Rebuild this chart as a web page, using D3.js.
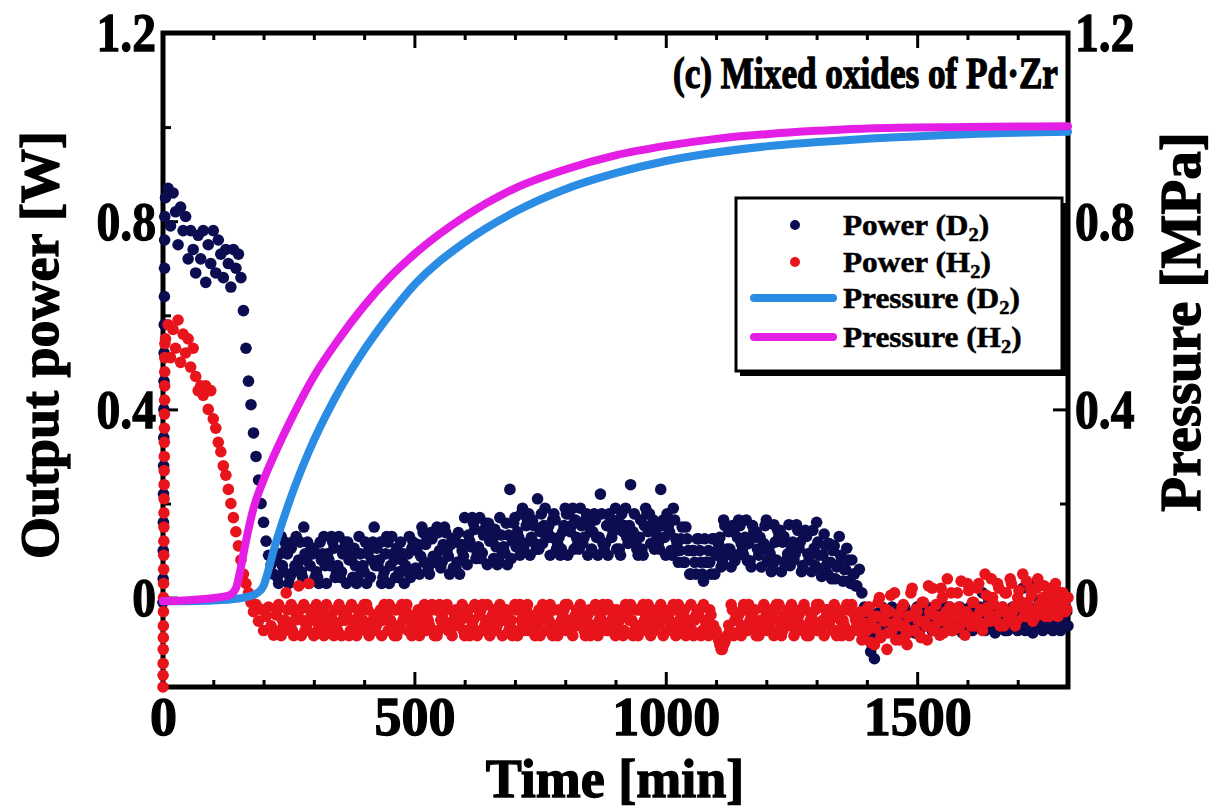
<!DOCTYPE html>
<html><head><meta charset="utf-8">
<script src="https://cdn.jsdelivr.net/npm/d3@7"></script>
<style>
body{margin:0;background:#fff}
svg{display:block}
text{font-family:"Liberation Serif","Times New Roman",serif;font-weight:bold;fill:#000}
.heavy{stroke:#000;stroke-width:1.3px}
</style>
</head><body>
<svg id="c" width="1217" height="809"></svg>
<script>
// ---------------- DATA ----------------
const xTicks = [0, 500, 1000, 1500];
const xTickLabels = ["0", "500", "1000", "1500"];
const xMinorTicks = [100,200,300,400,600,700,800,900,1100,1200,1300,1400,1600,1700];
const yTicks = [0, 0.4, 0.8, 1.2];
const yTickLabels = ["0", "0.4", "0.8", "1.2"];
const yMinorTicks = [0.2, 0.6, 1.0];

// initial fast rise (min, W)
const riseD2Time = [0,0.25,0.5,0.75,1,1.25,1.5,1.75,2,2.25,2.5,2.75,3,3.25,3.5];
const riseD2 = [-0.01,0.04,0.1,0.16,0.22,0.28,0.34,0.40,0.46,0.52,0.58,0.64,0.70,0.76,0.81];
const riseH2Time = [0,0.15,0.3,0.45,0.6,0.75,0.9,1.05,1.2,1.35,1.5,1.65,1.8,1.95,2.1,2.25,2.4,2.55,2.7,2.85,3,3.15,3.3,3.45,3.6,3.75];
const riseH2 = [-0.19,-0.165,-0.14,-0.11,-0.085,-0.06,-0.03,0.0,0.03,0.06,0.09,0.12,0.15,0.18,0.21,0.24,0.27,0.30,0.33,0.36,0.39,0.42,0.45,0.48,0.51,0.54];

// power samples every 5 min from 5 to 1800 min
const powerStep = 5;
const powerD2 = [
 0.85,0.87,0.79,0.86,0.82,0.75,
 0.83,0.78,0.81,0.72,
 0.78,0.74,0.69,0.77,0.72,0.78,0.67,0.75,0.71,0.78,0.69,0.76,
 0.73,0.68,0.74,0.71,0.66,0.74,0.70,0.73,
 0.68,0.61,0.53,0.46,0.41,0.35,0.30,0.25,0.20,0.16,0.12,0.09,0.07,0.05,
 0.08,0.03,0.13,0.055,0.105, 0.03,0.105,0.055,0.13,0.08, 0.055,0.15,0.08,0.03,0.105, 0.105,0.055,0.03,0.08,0.13,
 0.03,0.08,0.13,0.105,0.055, 0.13,0.055,0.105,0.03,0.08, 0.08,0.105,0.03,0.13,0.055, 0.055,0.03,0.105,0.08,0.15,
 0.105,0.08,0.03,0.055,0.13, 0.03,0.13,0.08,0.105,0.055, 0.08,0.03,0.055,0.13,0.105, 0.06,
 0.10,0.05,0.15,0.075,0.125, 0.05,0.125,0.075,0.15,0.10, 0.075,0.15,0.10,0.05,0.125, 0.125,0.075,0.05,0.10,0.17,
 0.07,0.12,0.17,0.145,0.095, 0.17,0.095,0.145,0.07,0.12, 0.12,0.145,0.07,0.17,0.095, 0.095,0.07,0.23,0.12,0.17,
 0.14,0.09,0.19,0.115,0.165, 0.09,0.165,0.115,0.21,0.14, 0.115,0.19,0.14,0.09,0.165, 0.165,0.115,0.09,0.14,0.19,
 0.09,0.14,0.19,0.165,0.115, 0.19,0.115,0.165,0.09,0.14, 0.14,0.165,0.09,0.22,0.115, 0.115,0.09,0.165,0.14,0.19,
 0.165,0.09,0.14,0.19,0.115, 0.24,0.14,0.115,0.09,0.165, 0.09,0.19,0.14,0.115,0.165, 0.14,0.115,0.23,0.165,0.09,
 0.15,0.10,0.19,0.125,0.075, 0.125,0.075,0.15,0.10,0.05, 0.10,0.05,0.125,0.075,0.035, 0.075,0.10,0.05,0.125,0.09,
 0.115,0.065,0.165,0.09,0.14, 0.065,0.14,0.09,0.165,0.115, 0.09,0.165,0.115,0.065,0.14, 0.14,0.09,0.065,0.115,0.165,
 0.105,0.055,0.155,0.08,0.13, 0.055,0.13,0.08,0.155,0.105, 0.08,0.155,0.105,0.055,0.13, 0.13,0.08,0.055,0.105,0.16,
 0.09,0.045,0.135,0.07,0.115, 0.04,0.11,0.065,0.13,0.085, 0.06,0.105,0.035,0.08,0.05, 0.025,0.06,0.01,-0.02,-0.05,
 -0.07,-0.10,-0.13,-0.085,-0.045, -0.02,-0.07,-0.045, -0.045,-0.02,-0.075, -0.07,-0.045,-0.02, -0.02,-0.07,-0.045, -0.045,-0.075,-0.02,
 -0.07,-0.02,-0.045, -0.02,-0.045,-0.07, -0.045,-0.07,-0.02, -0.075,-0.045,-0.02, -0.02,-0.07,-0.045, -0.045,-0.02,-0.075, -0.07,-0.045,
 -0.02,-0.07,-0.045, -0.045,-0.02,0.01, -0.07,-0.045,-0.02, -0.02,-0.075,-0.045, -0.045,-0.02,-0.07, -0.07,-0.045,-0.02, -0.02,-0.07,
 -0.045,0.02,-0.07,-0.02, -0.045,-0.075,0.03,-0.02,-0.045, -0.07,-0.02,-0.045, 0.01,-0.07,-0.045, -0.02,-0.07,-0.045,-0.02,-0.06
];
const powerH2 = [
 0.55,0.58,0.51,0.57,0.53,0.59,0.50,0.56,0.52,0.55,0.49,0.53,
 0.47,0.44,0.45,0.43,0.45,0.40,0.44,0.38,
 0.36,0.33,0.31,0.28,0.26,0.23,0.20,0.17,0.14,0.11,0.08,0.05,0.03,0.01,-0.01,
 -0.03,-0.015,-0.05,-0.025,-0.07,-0.04,-0.02,-0.06,-0.08,
 -0.037,-0.015,-0.081,-0.059, 0.01,-0.059,-0.015,-0.081, -0.037,0.025,-0.081,-0.015, -0.059,0.03,-0.037,-0.081, -0.015,-0.059,-0.037,-0.081,
 -0.015,-0.059,-0.037,-0.081, -0.059,-0.015,-0.081,-0.037, -0.037,-0.081,-0.015,-0.059, -0.081,-0.037,-0.059,-0.015, -0.015,-0.081,-0.059,-0.037,
 -0.059,-0.037,-0.081,-0.015, -0.037,-0.015,-0.059,-0.081, -0.081,-0.059,-0.015,-0.037, -0.015,-0.037,-0.081,-0.059, -0.059,-0.081,-0.037,-0.015,
 -0.037,-0.059,-0.015,-0.081, -0.081,-0.015,-0.037,-0.059, -0.015,-0.059,-0.081,-0.037, -0.059,-0.037,-0.015,-0.081, -0.037,-0.081,-0.059,-0.015,
 -0.081,-0.037,-0.015,-0.059, -0.015,-0.081,-0.037,-0.059, -0.059,-0.015,-0.081,-0.037, -0.037,-0.059,-0.081,-0.015, -0.081,-0.015,-0.059,-0.037,
 -0.015,-0.037,-0.059,-0.081, -0.059,-0.081,-0.015,-0.037, -0.037,-0.015,-0.081,-0.059, -0.081,-0.059,-0.037,-0.015, -0.015,-0.059,-0.081,-0.037,
 -0.059,-0.015,-0.037,-0.081, -0.037,-0.081,-0.059,-0.015, -0.081,-0.037,-0.015,-0.059, -0.015,-0.059,-0.037,-0.081, -0.059,-0.037,-0.081,-0.015,
 -0.037,-0.015,-0.081,-0.059, -0.081,-0.059,-0.015,-0.037, -0.015,-0.081,-0.037,-0.059, -0.059,-0.015,-0.081,-0.037, -0.037,-0.059,-0.015,-0.081,
 -0.015,-0.059,-0.037,-0.081, -0.059,-0.015,-0.081,-0.037, -0.037,-0.081,-0.015,-0.059, -0.081,-0.037,-0.059, -0.07,-0.09,-0.11,-0.10,-0.085,
 -0.059,-0.015,-0.081,-0.037, -0.037,-0.081,-0.015,-0.059, -0.015,-0.037,-0.059,-0.081, -0.081,-0.059,-0.015,-0.037, -0.059,-0.037,-0.081,-0.015,
 -0.015,-0.081,-0.037,-0.059, -0.059,-0.015,-0.081,-0.037, -0.037,-0.059,-0.015,-0.081, -0.081,-0.037,-0.059,-0.015, -0.015,-0.059,-0.081,-0.037,
 -0.059,-0.037,-0.015,-0.081, -0.037,-0.081,-0.059,-0.015, -0.081,-0.015,-0.037,-0.059,
 -0.05,-0.09,-0.03,-0.07,
 -0.02,-0.06,-0.10,-0.04,0.00,-0.08,-0.05,-0.11,-0.03,-0.07,0.01,-0.05,-0.09,-0.02,-0.06,-0.10,-0.04,0.02,-0.07,-0.03,
 -0.08,-0.01,-0.05,-0.09,-0.03,0.02,-0.06,-0.04,-0.08,0.00,-0.05,0.04,-0.02,-0.07,-0.04,0.01,-0.06,-0.03,-0.08,0.03,
 -0.04,-0.01,-0.06,0.02,-0.03,-0.07,0.05,-0.02,-0.05,0.00,-0.04,0.03,-0.06,-0.02,0.01,-0.05,0.04,-0.03,-0.06,0.00,
 -0.02,0.05,-0.04,-0.01,0.02,-0.05,-0.03,0.04,-0.02,0.00,-0.04,0.02,-0.03,-0.01,0.03,-0.04,-0.02,0.01,-0.03,0.00
];

// intermediate samples (every 5 min from 227.5 to 1797.5 min)
const powerMidStart = 227.5;
const powerD2Mid = [
 0.043,0.093,0.068,0.118, 0.093,0.043,0.118,0.068, 0.068,0.118,0.043,0.093, 0.118,0.068,0.093,0.043, 0.043,0.118,0.093,0.068,
 0.093,0.068,0.118,0.043, 0.068,0.043,0.093,0.118, 0.118,0.093,0.043,0.068, 0.043,0.093,0.068,0.118, 0.093,0.043,0.118,0.068,
 0.068,0.118,0.043,0.093, 0.118,0.068,0.093,0.043, 0.043,0.118,0.093,0.068, 0.093,0.043,0.118,
 0.063,0.113,0.088,0.138, 0.113,0.063,0.138,0.088, 0.088,0.138,0.063,0.113, 0.138,0.088,0.113,0.063, 0.063,0.138,0.113,0.088, 0.113,
 0.133,0.108,0.158,0.083, 0.108,0.083,0.133,0.158, 0.158,0.133,0.083,0.108, 0.083,0.133,0.108,0.158, 0.133,0.083,0.158,0.108,
 0.128,0.178,0.103,0.153, 0.178,0.128,0.153,0.103, 0.103,0.178,0.153,0.128, 0.153,0.128,0.178,0.103, 0.128,0.103,0.153,0.178,
 0.178,0.153,0.103,0.128, 0.103,0.153,0.128,0.178, 0.153,0.103,0.178,0.128, 0.128,0.178,0.103,0.153, 0.178,0.128,0.153,0.103,
 0.103,0.178,0.153,0.128, 0.153,0.128,0.178,0.103, 0.128,0.103,0.153,0.178, 0.178,0.153,0.103,0.128, 0.103,0.153,0.128,0.178,
 0.14,0.09,0.165,0.115, 0.10,0.15,0.075,0.125, 0.05,0.10,0.075,0.125, 0.10,0.05,0.125,0.075, 0.075,0.125,0.05,0.10,
 0.128,0.078,0.153,0.103, 0.103,0.153,0.078,0.128, 0.153,0.103,0.128,0.078, 0.078,0.153,0.128,0.103, 0.128,0.103,0.153,0.078,
 0.093,0.068,0.118,0.143, 0.143,0.118,0.068,0.093, 0.068,0.118,0.093,0.143, 0.118,0.068,0.143,0.093, 0.093,0.143,0.068,0.118,
 0.06,0.09,0.11,0.05,0.075,0.10,0.04,0.07,0.09,0.035,0.06,0.08,0.03,0.05,0.025,
 -0.035,-0.06,-0.085,-0.04,-0.09,-0.115,-0.10,-0.06,
 -0.033,-0.058,-0.06,-0.03,-0.035,-0.058,-0.055,-0.033,-0.03,-0.06,-0.058,-0.035,-0.033,-0.055,-0.06,-0.03,-0.033,-0.058,-0.06,-0.035,
 -0.03,-0.058,-0.055,-0.033,-0.035,-0.06,-0.058,-0.03,-0.033,-0.055,-0.06,-0.035,-0.03,-0.058,-0.055,-0.033,-0.035,-0.06,-0.058,-0.03,
 -0.033,-0.055,-0.06,-0.035,-0.008,-0.058,-0.055,-0.033,-0.035,-0.06,-0.058,-0.03,-0.033,-0.055,-0.06,-0.035,-0.03,-0.058,-0.055,-0.033,
 -0.035,-0.06,-0.058,-0.03,-0.005,-0.055,-0.06,-0.035,-0.03,-0.058,-0.055,-0.033,-0.035,-0.06,-0.058,-0.03
];
const powerH2Mid = [
 -0.026,-0.07,-0.048, -0.048,-0.026,-0.07, -0.07,-0.048,-0.026, -0.026,-0.048,-0.07, -0.07,-0.026,-0.048, -0.048,-0.07,-0.026, -0.026,-0.07,-0.048,
 -0.07,-0.048,-0.026, -0.07,-0.026,-0.048, -0.048,-0.026,-0.07, -0.048,-0.07,-0.026, -0.026,-0.048,-0.07, -0.026,-0.07,-0.048, -0.07,-0.048,-0.026,
 -0.048,-0.026,-0.07, -0.048,-0.07,-0.026, -0.07,-0.026,-0.048, -0.026,-0.07,-0.048, -0.07,-0.048,-0.026, -0.026,-0.048,-0.07, -0.048,-0.026,-0.07,
 -0.026,-0.07,-0.048, -0.048,-0.026,-0.07, -0.07,-0.048,-0.026, -0.026,-0.048,-0.07, -0.07,-0.026,-0.048, -0.048,-0.07,-0.026, -0.026,-0.07,-0.048,
 -0.07,-0.048,-0.026, -0.07,-0.026,-0.048, -0.048,-0.026,-0.07, -0.048,-0.07,-0.026, -0.026,-0.048,-0.07, -0.026,-0.07,-0.048, -0.07,-0.048,-0.026,
 -0.048,-0.026,-0.07, -0.048,-0.07,-0.026, -0.07,-0.026,-0.048, -0.026,-0.07,-0.048, -0.07,-0.048,-0.026, -0.026,-0.048,-0.07, -0.048,-0.026,-0.07,
 -0.026,-0.07,-0.048, -0.048,-0.026,-0.07, -0.07,-0.048,-0.026, -0.026,-0.048,-0.07, -0.07,-0.026,-0.048, -0.048,-0.07,-0.026, -0.026,-0.07,-0.048,
 -0.07,-0.048,-0.026, -0.07,-0.026,-0.048, -0.048,-0.026,-0.07, -0.048,-0.07,-0.026, -0.026,-0.048,-0.07, -0.026,-0.07,-0.048, -0.07,-0.048,-0.026,
 -0.026,-0.07,-0.048, -0.048,-0.026,-0.07, -0.07, -0.08,-0.10,-0.11,-0.095,-0.08, -0.07,-0.026,-0.048, -0.048,-0.07,-0.026, -0.026,-0.07,-0.048,
 -0.048,-0.026,-0.07, -0.048,-0.07,-0.026, -0.07,-0.026,-0.048, -0.026,-0.07,-0.048, -0.07,-0.048,-0.026, -0.026,-0.048,-0.07, -0.048,-0.026,-0.07,
 -0.026,-0.07,-0.048, -0.048,-0.026,-0.07, -0.07,-0.048,-0.026, -0.026,-0.048,-0.07, -0.07,-0.026,-0.048, -0.048,-0.07,-0.026, -0.026,-0.07,-0.048,
 -0.07,-0.03,-0.08,-0.055,-0.02,-0.095,-0.04,-0.065,-0.01,-0.085,-0.045,-0.025,-0.075,0.005,-0.055,-0.09,-0.035,-0.06,-0.015,-0.08,
 -0.04,0.01,-0.07,-0.025,-0.05,-0.085,-0.01,-0.06,0.025,-0.035,-0.07,-0.015,-0.05,0.02,-0.075,-0.03,-0.055,0.01,-0.04,-0.065,
 -0.02,0.035,-0.05,-0.03,0.015,-0.06,-0.01,-0.045,0.03,-0.025,-0.055,0.005,-0.035,0.04,-0.015,-0.05,0.02,-0.03,-0.06,0.01,
 -0.035,0.03,-0.02,-0.05,0.015,-0.01,-0.04,0.035,-0.025,0.005,-0.045,0.02,-0.015,-0.035,0.025,-0.01,-0.04,0.01,-0.02,0.015,
 -0.03,0.0,-0.015,-0.025
];

// pressure (min, MPa)
const pressD2Time = [0,100,150,185,200,210,220,250,290,340,390,450,500,600,700,800,900,1000,1100,1200,1400,1600,1800];
const pressD2 = [-0.008,-0.006,-0.002,0.008,0.025,0.06,0.10,0.20,0.31,0.42,0.51,0.60,0.665,0.755,0.82,0.868,0.902,0.928,0.946,0.959,0.975,0.985,0.99];
const pressH2Time = [0,70,130,145,155,165,180,200,220,260,300,350,400,450,500,600,700,800,900,1000,1100,1200,1300,1400,1600,1800];
const pressH2 = [-0.008,-0.004,0.004,0.02,0.065,0.12,0.19,0.25,0.30,0.39,0.47,0.55,0.62,0.68,0.73,0.81,0.87,0.91,0.94,0.96,0.975,0.985,0.992,0.997,1.0,1.002];

const seriesNames = ["Power (D", "Power (H", "Pressure (D", "Pressure (H"];
const colors = {d2p:"#0c0c50", h2p:"#e8141c", d2pr:"#2b8ce4", h2pr:"#e41ee4"};

// ---------------- CHART ----------------
const FONT = "Liberation Serif";
const svg = d3.select("#c");
const x = d3.scaleLinear().domain([0,1800]).range([163,1068]);
const y = d3.scaleLinear().domain([-0.19,1.2]).range([687,33]);
const yR = d3.scaleLinear().domain([-0.19,1.2]).range([687,33]);
const fmtY = d => yTickLabels[yTicks.indexOf(d)];
const fmtX = d => xTickLabels[xTicks.indexOf(d)];

const gAx = svg.append("g");
function styleAxis(g){ g.select(".domain").remove(); g.selectAll("line").attr("stroke","#000").attr("stroke-width",3); }
function styleLabels(size, sx){
  return g => g.selectAll("text").attr("font-size",size).attr("font-family",FONT).attr("class","heavy")
    .attr("fill","#000")
    .attr("transform", function(){ const xx=+d3.select(this).attr("x")||0; return `translate(${xx*(1-sx)},0) scale(${sx},1)`; });
}

gAx.append("g").attr("transform","translate(0,687)")
  .call(d3.axisBottom(x).tickValues(xTicks).tickFormat(fmtX).tickSize(-15).tickPadding(10))
  .call(styleAxis).call(g=>g.selectAll("text").attr("font-size",54).attr("font-family",FONT).attr("class","heavy").attr("fill","#000"));
gAx.append("g").attr("transform","translate(0,687)")
  .call(d3.axisBottom(x).tickValues(xMinorTicks).tickFormat("").tickSize(-7)).call(styleAxis);
gAx.append("g").attr("transform","translate(0,33)")
  .call(d3.axisTop(x).tickValues(xTicks).tickFormat("").tickSize(-15)).call(styleAxis);
gAx.append("g").attr("transform","translate(0,33)")
  .call(d3.axisTop(x).tickValues(xMinorTicks).tickFormat("").tickSize(-7)).call(styleAxis);
gAx.append("g").attr("transform","translate(163,0)")
  .call(d3.axisLeft(y).tickValues(yTicks).tickFormat(fmtY).tickSize(-15).tickPadding(7))
  .call(styleAxis).call(styleLabels(56, 0.85));
gAx.append("g").attr("transform","translate(163,0)")
  .call(d3.axisLeft(y).tickValues(yMinorTicks).tickFormat("").tickSize(-8)).call(styleAxis);
gAx.append("g").attr("transform","translate(1068,0)")
  .call(d3.axisRight(yR).tickValues(yTicks).tickFormat(fmtY).tickSize(-15).tickPadding(7))
  .call(styleAxis).call(styleLabels(56, 0.85));
gAx.append("g").attr("transform","translate(1068,0)")
  .call(d3.axisRight(yR).tickValues(yMinorTicks).tickFormat("").tickSize(-8)).call(styleAxis);

svg.append("rect").attr("x",x(0)).attr("y",y(1.2)).attr("width",x(1800)-x(0)).attr("height",y(-0.19)-y(1.2))
  .attr("fill","none").attr("stroke","#000").attr("stroke-width",5);

// dots
const pts = (times, vals) => vals.map((v,i)=>({t:times[i], v}));
const stepPts = vals => vals.map((v,i)=>({t:(i+1)*powerStep, v}));
const midPts = vals => vals.map((v,i)=>({t:powerMidStart + i*powerStep, v}));
const dataD2 = pts(riseD2Time, riseD2).concat(stepPts(powerD2), midPts(powerD2Mid));
const dataH2 = pts(riseH2Time, riseH2).concat(stepPts(powerH2), midPts(powerH2Mid));
const r = 5.8;
svg.append("g").selectAll("circle").data(dataD2).join("circle")
  .attr("cx",d=>x(d.t)).attr("cy",d=>y(d.v)).attr("r",r).attr("fill",colors.d2p);
svg.append("g").selectAll("circle").data(dataH2).join("circle")
  .attr("cx",d=>x(d.t)).attr("cy",d=>y(d.v)).attr("r",r).attr("fill",colors.h2p);

// pressure lines
const line = d3.line().x(d=>x(d.t)).y(d=>yR(d.v)).curve(d3.curveMonotoneX);
svg.append("path").datum(pts(pressD2Time, pressD2)).attr("d",line)
  .attr("fill","none").attr("stroke",colors.d2pr).attr("stroke-width",8).attr("stroke-linecap","round");
svg.append("path").datum(pts(pressH2Time, pressH2)).attr("d",line)
  .attr("fill","none").attr("stroke",colors.h2pr).attr("stroke-width",8).attr("stroke-linecap","round");

// title
svg.append("text").attr("transform","translate(1058,88) scale(0.8,1)").attr("text-anchor","end")
  .attr("font-size",44).attr("font-family",FONT).attr("class","heavy")
  .text("(c) Mixed oxides of Pd\u00b7Zr");

// axis titles
svg.append("text").attr("x",615).attr("y",797).attr("text-anchor","middle").attr("font-size",54).attr("font-family",FONT).attr("class","heavy").text("Time [min]");
svg.append("text").attr("transform","translate(58,345) rotate(-90)").attr("text-anchor","middle").attr("font-size",54).attr("font-family",FONT).attr("class","heavy").text("Output power [W]");
svg.append("text").attr("transform","translate(1200,322) rotate(-90)").attr("text-anchor","middle").attr("font-size",57).attr("font-family",FONT).attr("class","heavy").text("Pressure [MPa]");

// legend
const lg = svg.append("g");
lg.append("rect").attr("x",740).attr("y",203).attr("width",326).attr("height",173).attr("fill","#000");
lg.append("rect").attr("x",736).attr("y",198).attr("width",326).attr("height",173).attr("fill","#fff").attr("stroke","#000").attr("stroke-width",3);
const rowsY = [225,262,298,337];
const legColors = [colors.d2p, colors.h2p, colors.d2pr, colors.h2pr];
seriesNames.forEach((nm,i)=>{
  if(i<2) lg.append("circle").attr("cx",795).attr("cy",rowsY[i]).attr("r",5).attr("fill",legColors[i]);
  else lg.append("line").attr("x1",754).attr("x2",833).attr("y1",rowsY[i]).attr("y2",rowsY[i]).attr("stroke",legColors[i]).attr("stroke-width",8).attr("stroke-linecap","round");
  const t = lg.append("text").attr("transform",`translate(843,${rowsY[i]+10}) scale(1.08,1)`).attr("font-size",29).attr("font-family",FONT).attr("stroke","#000").attr("stroke-width",0.5);
  t.append("tspan").text(nm);
  t.append("tspan").attr("font-size",19).attr("dy",6).text("2");
  t.append("tspan").attr("dy",-6).text(")");
});
</script>
</body></html>
